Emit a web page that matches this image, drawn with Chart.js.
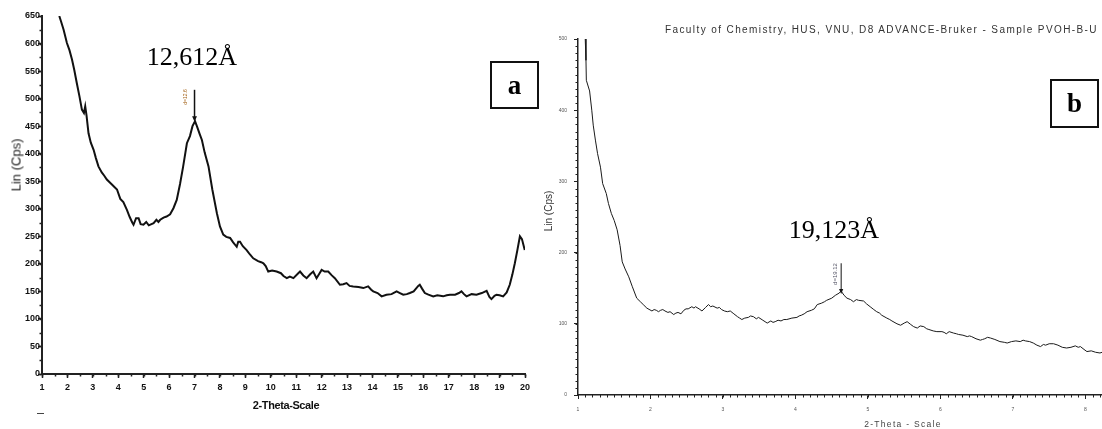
<!DOCTYPE html>
<html>
<head>
<meta charset="utf-8">
<title>XRD patterns a / b</title>
<script src="https://cdn.jsdelivr.net/npm/chart.js@4.4.0/dist/chart.umd.min.js"></script>
<style>
  body { margin: 0; background: #fff; width: 1102px; height: 429px; overflow: hidden; position: relative; font-family: "Liberation Sans", Arial, sans-serif; }
  canvas { position: absolute; top: 0; }
  #chartA { left: 0; }
  #chartB { left: 545px; }
  .txt { position: absolute; white-space: nowrap; line-height: 1; }
  .rot { transform: translate(-50%, -50%) rotate(-90deg); }
  .ctr { transform: translate(-50%, -50%); }
  .peak { font-family: "Liberation Serif", "Times New Roman", serif; font-size: 26px; color: #000; }
  .box { position: absolute; border: 2px solid #111; box-sizing: border-box; display: flex; align-items: center; justify-content: center;
         font-family: "Liberation Serif", "Times New Roman", serif; font-weight: bold; font-size: 27px; color: #000; }
</style>
</head>
<body>
<canvas id="chartA" width="545" height="429"></canvas>
<canvas id="chartB" width="557" height="429"></canvas>

<!-- panel a texts -->
<div class="txt rot" style="left:16px; top:165px; font-size:13px; color:#1a1a1a;">Lin (Cps)</div>
<div class="txt ctr" style="left:286px; top:405px; font-size:11px; font-weight:bold; letter-spacing:-0.4px; color:#111;">2-Theta-Scale</div>
<div class="txt ctr peak" style="left:192px; top:57px;">12,612Å</div>
<div class="txt rot" style="left:185px; top:97px; font-size:5px; color:#a5651c;">d=12.6</div>
<div class="box" style="left:490px; top:61px; width:49px; height:48px;">a</div>
<div class="txt" style="left:37px; top:413px; width:7px; height:1px; background:#444;"></div>

<!-- panel b texts -->
<div class="txt" style="left:665px; top:25px; font-size:10px; letter-spacing:1.4px; color:#333;">Faculty of Chemistry, HUS, VNU, D8 ADVANCE-Bruker - Sample PVOH-B-U</div>
<div class="txt rot" style="left:549px; top:211px; font-size:10px; color:#333;">Lin (Cps)</div>
<div class="txt ctr" style="left:903px; top:424px; font-size:8.5px; letter-spacing:1.3px; color:#444;">2-Theta - Scale</div>
<div class="txt ctr peak" style="left:834px; top:230px;">19,123Å</div>
<div class="txt rot" style="left:835px; top:274px; font-size:6px; color:#556;">d=19.12</div>
<div class="box" style="left:1050px; top:79px; width:49px; height:49px;">b</div>

<script>
// ---- panel a : 2-theta (deg) and intensity (Cps) ----
const thetaA = [1.68, 1.75, 1.85, 1.98, 2.08, 2.18, 2.27, 2.37, 2.47, 2.57, 2.65, 2.70, 2.75, 2.83, 2.92,
  3.03, 3.12, 3.22, 3.35, 3.45, 3.55, 3.75, 3.95, 4.08, 4.20, 4.34, 4.45, 4.55, 4.60, 4.70,
  4.80, 4.88, 4.99, 5.10, 5.20, 5.39, 5.50, 5.58, 5.65, 5.78, 5.90, 6.04, 6.17, 6.30, 6.43,
  6.55, 6.70, 6.82, 6.92, 7.02, 7.10, 7.20, 7.29, 7.40, 7.55, 7.70, 7.88, 8.00, 8.13, 8.25,
  8.40, 8.52, 8.66, 8.72, 8.79, 8.90, 9.05, 9.18, 9.31, 9.50, 9.62, 9.71, 9.80, 9.90, 10.05,
  10.23, 10.40, 10.50, 10.63, 10.75, 10.89, 11.08, 11.15, 11.28, 11.41, 11.55, 11.67, 11.80, 11.92, 12.00,
  12.12, 12.26, 12.40, 12.52, 12.72, 12.85, 12.98, 13.10, 13.24, 13.45, 13.64, 13.83, 13.95, 14.03, 14.20,
  14.36, 14.55, 14.75, 14.95, 15.08, 15.21, 15.35, 15.47, 15.62, 15.80, 15.86, 15.95, 16.06, 16.20, 16.39,
  16.55, 16.78, 16.92, 17.05, 17.25, 17.40, 17.50, 17.60, 17.70, 17.90, 18.09, 18.30, 18.49, 18.60, 18.68,
  18.80, 18.88, 19.00, 19.14, 19.28, 19.40, 19.50, 19.60, 19.70, 19.80, 19.88, 19.99];
const linA = [650, 640, 625, 601, 588, 571, 552, 528, 505, 480, 474, 486, 470, 437, 420,
  407, 392, 377, 366, 360, 353, 344, 335, 318, 312, 298, 285, 275, 271, 283,
  283, 272, 271, 276, 270, 274, 280, 276, 280, 284, 286, 290, 301, 316, 345,
  376, 419, 432, 450, 459, 449, 436, 425, 402, 377, 335, 292, 268, 253, 249,
  247, 239, 231, 240, 240, 232, 225, 217, 210, 205, 203, 201, 196, 186, 188,
  186, 183, 178, 174, 177, 174, 183, 186, 179, 174, 181, 186, 174, 183, 189,
  186, 186, 179, 174, 162, 163, 165, 160, 159, 158, 156, 159, 153, 150, 147,
  141, 144, 145, 150, 147, 144, 145, 147, 150, 160, 162, 155, 147, 144, 141,
  143, 141, 143, 144, 144, 147, 150, 145, 141, 145, 144, 147, 151, 140, 136,
  142, 144, 143, 141, 148, 162, 180, 201, 225, 250, 245, 225];
const thetaTicksA = [1, 2, 3, 4, 5, 6, 7, 8, 9, 10, 11, 12, 13, 14, 15, 16, 17, 18, 19, 20];
const linTicksA = [0, 50, 100, 150, 200, 250, 300, 350, 400, 450, 500, 550, 600, 650];
const peakA = { theta: 7.0, from: 516, to: 458 };

// ---- panel b ----
const thetaB = [1.10, 1.11, 1.115, 1.16, 1.19, 1.21, 1.24, 1.27, 1.31, 1.34, 1.39, 1.42, 1.46, 1.50, 1.54,
  1.58, 1.61, 1.65, 1.70, 1.75, 1.81, 1.86, 1.90, 1.95, 2.02, 2.05, 2.08, 2.11, 2.14, 2.17,
  2.20, 2.24, 2.27, 2.32, 2.35, 2.38, 2.42, 2.46, 2.49, 2.52, 2.57, 2.60, 2.62, 2.67, 2.71,
  2.76, 2.80, 2.83, 2.86, 2.92, 2.95, 2.98, 3.02, 3.06, 3.10, 3.15, 3.20, 3.23, 3.26, 3.30,
  3.35, 3.38, 3.42, 3.46, 3.49, 3.55, 3.58, 3.61, 3.66, 3.69, 3.72, 3.76, 3.80, 3.84, 3.88,
  3.95, 4.02, 4.05, 4.08, 4.12, 4.16, 4.22, 4.26, 4.30, 4.36, 4.40, 4.43, 4.50, 4.55, 4.60,
  4.63, 4.67, 4.71, 4.76, 4.80, 4.84, 4.87, 4.94, 4.98, 5.03, 5.08, 5.12, 5.16, 5.19, 5.26,
  5.30, 5.33, 5.40, 5.45, 5.50, 5.54, 5.59, 5.63, 5.68, 5.72, 5.77, 5.81, 5.84, 5.90, 5.95,
  6.02, 6.05, 6.08, 6.12, 6.18, 6.22, 6.25, 6.31, 6.37, 6.40, 6.43, 6.49, 6.55, 6.58, 6.61,
  6.65, 6.69, 6.75, 6.82, 6.88, 6.92, 6.98, 7.04, 7.10, 7.14, 7.17, 7.23, 7.28, 7.33, 7.38,
  7.42, 7.45, 7.50, 7.56, 7.62, 7.68, 7.74, 7.80, 7.86, 7.90, 7.93, 7.98, 8.02, 8.08, 8.14,
  8.20, 8.23];
const linB = [500, 470, 442, 427, 400, 379, 358, 339, 320, 297, 283, 269, 255, 245, 232,
  210, 187, 177, 166, 152, 136, 131, 127, 122, 118, 120, 119, 117, 119, 120,
  118, 116, 117, 113, 115, 116, 114, 119, 121, 121, 124, 122, 124, 121, 118,
  123, 127, 124, 125, 122, 123, 120, 118, 117, 118, 114, 110, 108, 106, 108,
  109, 111, 110, 107, 109, 105, 103, 101, 104, 102, 103, 105, 104, 106, 106,
  108, 109, 111, 112, 114, 117, 119, 121, 127, 129, 131, 133, 136, 140, 143,
  146, 140, 136, 134, 131, 134, 133, 132, 128, 124, 120, 117, 115, 112, 108,
  106, 104, 100, 98, 101, 103, 99, 96, 94, 97, 96, 93, 92, 90, 89,
  89, 88, 86, 89, 87, 86, 85, 84, 82, 83, 82, 79, 77, 78, 79,
  81, 80, 78, 75, 74, 73, 75, 76, 75, 77, 76, 75, 73, 70, 68,
  71, 70, 72, 72, 70, 67, 66, 67, 69, 67, 68, 64, 61, 62, 60,
  59, 60];
const thetaTicksB = [1, 2, 3, 4, 5, 6, 7, 8];
const linTicksB = [0, 100, 200, 300, 400, 500];
const peakB = { theta: 4.63, from: 185, to: 142 };

// minor ticks drawn through the chart's own scales
const minorTicks = {
  id: 'minorTicks',
  afterDraw(chart, args, o) {
    const { ctx, chartArea } = chart;
    const xs = chart.scales.x, ys = chart.scales.y;
    ctx.save();
    ctx.strokeStyle = o.color;
    ctx.lineWidth = o.width;
    ctx.beginPath();
    for (let v = xs.min; v <= xs.max + 1e-9; v += o.xStep) {
      const px = Math.round(xs.getPixelForValue(v)) + 0.5;
      ctx.moveTo(px, chartArea.bottom);
      ctx.lineTo(px, chartArea.bottom + o.len);
    }
    for (let v = ys.min; v <= ys.max + 1e-9; v += o.yStep) {
      const py = Math.round(ys.getPixelForValue(v)) + 0.5;
      ctx.moveTo(chartArea.left, py);
      ctx.lineTo(chartArea.left - o.len, py);
    }
    ctx.stroke();
    ctx.restore();
  }
};

// peak marker arrow
const peakArrow = {
  id: 'peakArrow',
  afterDatasetsDraw(chart, args, o) {
    const { ctx } = chart;
    const px = chart.scales.x.getPixelForValue(o.theta);
    const top = chart.scales.y.getPixelForValue(o.from);
    const bot = chart.scales.y.getPixelForValue(o.to);
    ctx.save();
    ctx.strokeStyle = o.color;
    ctx.fillStyle = o.color;
    ctx.lineWidth = o.width;
    ctx.beginPath();
    ctx.moveTo(px, top);
    ctx.lineTo(px, bot - o.head);
    ctx.stroke();
    ctx.beginPath();
    ctx.moveTo(px - o.head * 0.6, bot - o.head * 1.4);
    ctx.lineTo(px + o.head * 0.6, bot - o.head * 1.4);
    ctx.lineTo(px, bot);
    ctx.closePath();
    ctx.fill();
    ctx.restore();
  }
};

function makeChart(id, cfg) {
  const pts = cfg.xs.map((x, i) => ({ x: x, y: cfg.ys[i] }));
  return new Chart(document.getElementById(id), {
    type: 'line',
    data: {
      datasets: [{
        data: pts,
        borderColor: cfg.lineColor,
        borderWidth: cfg.lineWidth,
        pointRadius: 0,
        tension: 0,
        fill: false
      }]
    },
    options: {
      responsive: false,
      animation: false,
      events: [],
      layout: { padding: cfg.padding },
      plugins: {
        legend: { display: false },
        tooltip: { enabled: false },
        minorTicks: cfg.minor,
        peakArrow: cfg.arrow
      },
      scales: {
        x: {
          type: 'linear',
          min: cfg.xMin,
          max: cfg.xMax,
          afterBuildTicks: s => { s.ticks = cfg.xTicks.map(v => ({ value: v })); },
          afterFit: s => { s.height = cfg.xAxisH; },
          border: { display: true, color: cfg.axisColor, width: cfg.axisWidth },
          grid: { drawOnChartArea: false, drawTicks: true, tickLength: cfg.tickLen, tickColor: cfg.axisColor, tickWidth: cfg.tickWidth },
          ticks: { color: cfg.tickColor, font: cfg.tickFont, padding: cfg.xPad, maxRotation: 0, autoSkip: false, callback: v => String(v) }
        },
        y: {
          min: cfg.yMin,
          max: cfg.yMax,
          afterBuildTicks: s => { s.ticks = cfg.yTicks.map(v => ({ value: v })); },
          afterFit: s => { s.width = cfg.yAxisW; },
          border: { display: true, color: cfg.axisColor, width: cfg.axisWidth },
          grid: { drawOnChartArea: false, drawTicks: true, tickLength: cfg.tickLen, tickColor: cfg.axisColor, tickWidth: cfg.tickWidth },
          ticks: { color: cfg.tickColor, font: cfg.tickFont, padding: cfg.yPad, autoSkip: false, callback: v => String(v) }
        }
      }
    },
    plugins: [minorTicks, peakArrow]
  });
}

makeChart('chartA', {
  xs: thetaA, ys: linA, xTicks: thetaTicksA, yTicks: linTicksA,
  xMin: 1, xMax: 20, yMin: 0, yMax: 650,
  padding: { top: 16, right: 20, left: 0, bottom: 0 },
  yAxisW: 42, xAxisH: 55,
  lineColor: '#111', lineWidth: 2,
  axisColor: '#222', axisWidth: 2, tickLen: 4, tickWidth: 1.5,
  tickColor: '#111', tickFont: { family: 'Liberation Sans', size: 9, weight: 'bold' },
  xPad: 4, yPad: -2,
  minor: { xStep: 0.5, yStep: 25, len: 2.5, width: 1.5, color: '#222' },
  arrow: { theta: peakA.theta, from: peakA.from, to: peakA.to, color: '#111', width: 1.5, head: 4 }
});

makeChart('chartB', {
  xs: thetaB, ys: linB, xTicks: thetaTicksB, yTicks: linTicksB,
  xMin: 1, xMax: 8.228, yMin: 0, yMax: 500,
  padding: { top: 39, right: 0, left: 0, bottom: 0 },
  yAxisW: 33, xAxisH: 34,
  lineColor: '#1a1a1a', lineWidth: 1,
  axisColor: '#222', axisWidth: 1.5, tickLen: 4, tickWidth: 1,
  tickColor: '#555', tickFont: { family: 'Liberation Sans', size: 5 },
  xPad: 8, yPad: 7,
  minor: { xStep: 0.1, yStep: 10, len: 2.5, width: 1, color: '#222' },
  arrow: { theta: peakB.theta, from: peakB.from, to: peakB.to, color: '#111', width: 1, head: 3.5 }
});
</script>
</body>
</html>
